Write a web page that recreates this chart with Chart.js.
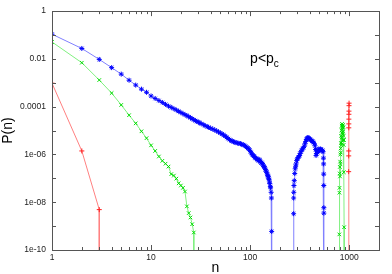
<!DOCTYPE html>
<html>
<head>
  <title>P(n) for p&lt;pc</title>
  <script src="https://cdn.jsdelivr.net/npm/chart.js"></script>
  <style>
    body { margin: 0; background: #fff; }
  </style>
</head>
<body>
  <canvas id="pnChart" width="392" height="274"></canvas>

  <script>
    // P = 0 entries: a value far below the axis, so the line drops to the frame
    const ZERO = 1e-12;

    // red (+)
    const redN = [1, 2, 3, 3, 988, 988, 989, 990, 991, 992, 993, 994, 995, 996, 997];
    const redP = [9.6e-4, 1.4e-6, 4.9e-9, ZERO, ZERO, 1.9e-7, 8.7e-7, 1.4e-6, 1.3e-5, 1.9e-5, 3e-5, 4.8e-5, 6.5e-5, 1.1e-4, 1.4e-4];

    // green (x)
    const greenN = [1, 2, 3, 4, 5, 6, 7, 8, 9, 10, 11, 12, 13, 14, 15, 16, 17, 18, 19, 20, 21, 22, 23, 24, 25, 26, 27, 27,
      793, 795, 797, 799, 802, 805, 808, 811, 814, 817, 820, 823, 826, 829, 832, 835, 838, 841, 844, 847, 850, 853, 856,
      859, 862, 865, 868, 871, 874, 877, 880, 883, 886, 889, 891];
    const greenP = [0.051, 0.0069, 0.0013, 3.7e-4, 1.18e-4, 4.4e-5, 2e-5, 9.3e-6, 4.8e-6, 2.4e-6, 1.4e-6, 8.2e-7, 5.4e-7,
      4.1e-7, 3.1e-7, 1.5e-7, 1.3e-7, 9.7e-8, 6.2e-8, 5e-8, 4e-8, 2.8e-8, 6.7e-9, 3.5e-9, 2.3e-9, 1.2e-9, 5.4e-10, ZERO,
      ZERO, 4.5e-10, 2.5e-8, 4e-8, 1.6e-7, 3e-7, 1.2e-7, 5e-7, 1e-6, 4e-7, 1.8e-6, 1.2e-6, 3e-6, 6e-6, 2.5e-6, 1e-5, 5e-6,
      1.6e-5, 8e-6, 1.9e-5, 1.1e-5, 1.5e-5, 4e-6, 1.3e-5, 7e-6, 1.7e-5, 9e-6, 4e-6, 1.4e-5, 6e-6, 2.5e-6, 1.8e-7, 4e-6,
      9e-10, ZERO];

    // blue (*)
    const blueN = [1, 2, 3, 4, 5, 6, 7, 8, 9, 10, 11, 12, 13, 14, 15, 16, 17, 18, 19, 20, 21, 22, 23, 24, 25, 26, 27, 28,
      29, 30, 31, 32, 34, 35, 37, 38, 40, 42, 44, 46, 48, 50, 52, 54, 56, 58, 60, 62, 64, 66, 68, 70, 72, 75, 77, 80, 82,
      85, 87, 90, 92, 95, 97, 99, 101, 103, 105, 107, 109, 111, 113, 115, 117, 119, 121, 123, 125, 127, 129, 131, 133, 135,
      137, 139, 141, 143, 145, 147, 149, 151, 152, 154, 155, 157, 158, 160, 161, 163, 164, 165, 166,
      275, 275, 275, 276, 277, 279, 282, 285, 288, 291, 295, 300, 305, 310, 315, 320, 326, 332, 338, 345, 352, 358, 364,
      370, 376, 382, 388, 394, 400, 407, 414, 421, 428, 436, 444, 452, 458, 463, 468, 474, 480, 487, 494, 501, 508, 515,
      522, 530, 538, 545, 550, 552, 553, 554, 555, 555, 555];
    const blueP = [0.108, 0.0273, 0.0095, 0.0043, 0.0023, 0.00128, 8e-4, 5.4e-4, 4e-4, 2.8e-4, 2.2e-4, 1.8e-4, 1.5e-4,
      1.25e-4, 1.05e-4, 9.3e-5, 8.2e-5, 7.2e-5, 6.4e-5, 5.7e-5, 5.1e-5, 4.6e-5, 4.2e-5, 3.8e-5, 3.45e-5, 3.1e-5, 2.85e-5,
      2.6e-5, 2.4e-5, 2.25e-5, 2.1e-5, 1.95e-5, 1.75e-5, 1.6e-5, 1.45e-5, 1.38e-5, 1.25e-5, 1.15e-5, 1.05e-5, 9.6e-6,
      8.7e-6, 7.9e-6, 7.2e-6, 6.5e-6, 5.9e-6, 5.2e-6, 4.6e-6, 4.2e-6, 3.8e-6, 3.6e-6, 3.4e-6, 3.25e-6, 3.1e-6, 3e-6,
      2.9e-6, 2.8e-6, 2.7e-6, 2.55e-6, 2.4e-6, 2.2e-6, 2e-6, 1.85e-6, 1.7e-6, 1.5e-6, 1.3e-6, 1.15e-6, 1e-6, 9.3e-7,
      8.5e-7, 7.8e-7, 7.2e-7, 6.8e-7, 6.5e-7, 6e-7, 5.5e-7, 6.2e-7, 5.8e-7, 5e-7, 4.4e-7, 4.6e-7, 4.2e-7, 3.6e-7, 3.2e-7,
      3e-7, 2.7e-7, 2.3e-7, 2e-7, 1.8e-7, 1.5e-7, 1.3e-7, 1.2e-7, 1e-7, 9e-8, 7e-8, 6e-8, 4.5e-8, 4e-8, 2.6e-8, 1.5e-8,
      6e-10, ZERO,
      ZERO, 3.3e-9, 1.5e-8, 2.6e-8, 5e-8, 8e-8, 1.6e-7, 2.5e-7, 3.2e-7, 4e-7, 5.5e-7, 6.5e-7, 7.5e-7, 8e-7, 9e-7, 1.1e-6,
      1.3e-6, 1.5e-6, 1.7e-6, 1.9e-6, 2.2e-6, 2.8e-6, 3.5e-6, 4.2e-6, 4.8e-6, 5.1e-6, 4.9e-6, 4.7e-6, 4.4e-6, 4.2e-6,
      3.9e-6, 3.6e-6, 3.5e-6, 3.2e-6, 2.9e-6, 2.3e-6, 1.6e-6, 9e-7, 1.1e-6, 1.3e-6, 1.2e-6, 1.5e-6, 1.7e-6, 1.5e-6, 1.6e-6,
      1.7e-6, 1.6e-6, 1.4e-6, 1.5e-6, 1.3e-6, 7e-7, 4e-7, 1.5e-7, 5e-8, 5.9e-9, 3.5e-9, ZERO];

    // axes
    const xMajorTicks = [1, 10, 100, 1000];
    const xTickLabels = ['1', '10', '100', '1000'];
    const yTicks = [1, 1e-1, 1e-2, 1e-3, 1e-4, 1e-5, 1e-6, 1e-7, 1e-8, 1e-9, 1e-10];
    const yTickLabels = ['1', '', '0.01', '', '0.0001', '', '1e-06', '', '1e-08', '', '1e-10'];

    // minor x tics 2..9 in every decade up to the axis end
    const xAllTicks = [];
    xMajorTicks.forEach(m => {
      for (let k = 1; k <= 9; k++) {
        if (m * k <= 2000) xAllTicks.push(m * k);
      }
    });

    const toPoints = (ns, ps) => ns.map((n, i) => ({ x: n, y: ps[i] }));

    Chart.defaults.font.family = '"Liberation Sans", Arial, sans-serif';
    Chart.defaults.color = '#222';

    // gnuplot style box with inward tics on all four sides
    const frameAndTicks = {
      id: 'frameAndTicks',
      afterDatasetsDraw(chart) {
        const { ctx, chartArea: a, scales: { x, y } } = chart;
        ctx.save();
        ctx.strokeStyle = '#555';
        ctx.lineWidth = 1;
        ctx.beginPath();
        x.ticks.forEach(t => {
          const px = Math.round(x.getPixelForValue(t.value)) + 0.5;
          const len = xMajorTicks.includes(t.value) ? 5 : 3;
          ctx.moveTo(px, a.bottom); ctx.lineTo(px, a.bottom - len);
          ctx.moveTo(px, a.top); ctx.lineTo(px, a.top + len);
        });
        y.ticks.forEach(t => {
          const py = Math.round(y.getPixelForValue(t.value)) + 0.5;
          ctx.moveTo(a.left, py); ctx.lineTo(a.left + 4, py);
          ctx.moveTo(a.right, py); ctx.lineTo(a.right - 4, py);
        });
        ctx.stroke();
        ctx.strokeRect(Math.round(a.left) + 0.5, Math.round(a.top) + 0.5,
          Math.round(a.right - a.left), Math.round(a.bottom - a.top));
        ctx.restore();
      }
    };

    // "p<pc" label, placed in data coordinates
    const regimeLabel = {
      id: 'regimeLabel',
      afterDraw(chart) {
        const { ctx, scales: { x, y } } = chart;
        const px = x.getPixelForValue(100);
        const py = y.getPixelForValue(7e-3);
        ctx.save();
        ctx.fillStyle = '#000';
        ctx.textBaseline = 'alphabetic';
        ctx.font = '14px "Liberation Sans", Arial, sans-serif';
        ctx.fillText('p<p', px, py);
        const w = ctx.measureText('p<p').width;
        ctx.font = '10px "Liberation Sans", Arial, sans-serif';
        ctx.fillText('c', px + w, py + 4);
        ctx.restore();
      }
    };

    new Chart(document.getElementById('pnChart'), {
      type: 'line',
      data: {
        datasets: [{
          label: 'red',
          data: toPoints(redN, redP),
          borderColor: '#ff8080',
          borderWidth: 1,
          pointStyle: 'cross',
          pointRadius: 2.5,
          pointBorderColor: '#ff2020',
          pointBorderWidth: 1
        }, {
          label: 'green',
          data: toPoints(greenN, greenP),
          borderColor: '#80f080',
          borderWidth: 1,
          pointStyle: 'crossRot',
          pointRadius: 2.5,
          pointBorderColor: '#00dd00',
          pointBorderWidth: 1
        }, {
          label: 'blue',
          data: toPoints(blueN, blueP),
          borderColor: '#8080ff',
          borderWidth: 1,
          pointStyle: 'star',
          pointRadius: 2.5,
          pointBorderColor: '#0000ff',
          pointBorderWidth: 1
        }]
      },
      options: {
        responsive: false,
        animation: false,
        devicePixelRatio: 1,
        layout: { padding: { top: 9, right: 13, bottom: 0, left: 0 } },
        elements: { line: { tension: 0 } },
        plugins: {
          legend: { display: false },
          tooltip: { enabled: false }
        },
        scales: {
          x: {
            type: 'logarithmic',
            min: 1,
            max: 2000,
            afterFit: s => { s.height = 24; },
            afterBuildTicks: s => { s.ticks = xAllTicks.map(v => ({ value: v })); },
            grid: { display: false, drawTicks: false },
            border: { display: false },
            ticks: {
              autoSkip: false,
              maxRotation: 0,
              padding: 3,
              font: { size: 8.5 },
              callback: v => {
                const i = xMajorTicks.indexOf(v);
                return i >= 0 ? xTickLabels[i] : '';
              }
            },
            title: { display: true, text: 'n', font: { size: 14 }, color: '#000', padding: { top: 0, bottom: -3 } }
          },
          y: {
            type: 'logarithmic',
            min: 1e-10,
            max: 1,
            afterFit: s => { s.width = 52; },
            afterBuildTicks: s => { s.ticks = yTicks.map(v => ({ value: v })); },
            grid: { display: false, drawTicks: false },
            border: { display: false },
            ticks: {
              autoSkip: false,
              padding: 6,
              font: { size: 8.5 },
              callback: (v, i) => yTickLabels[i]
            },
            title: { display: true, text: 'P(n)', font: { size: 14 }, color: '#000', padding: 0 }
          }
        }
      },
      plugins: [frameAndTicks, regimeLabel]
    });
  </script>
</body>
</html>
